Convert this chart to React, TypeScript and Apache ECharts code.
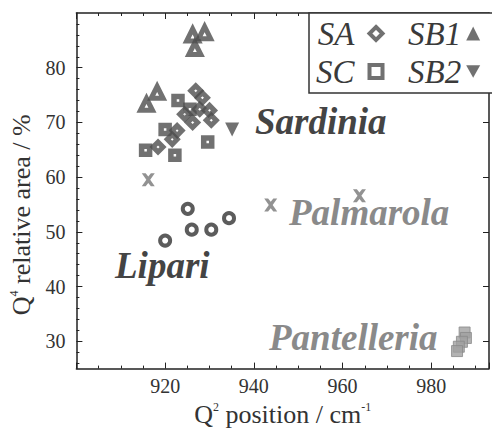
import React, { useEffect, useRef } from "react";
import * as echarts from "echarts";

// ---- data (x = Q2 position / cm-1, y = Q4 relative area / %) ----
const saPoints: number[][] = [
  [926.9, 75.8], [928.4, 74.5], [927.8, 72.4], [930.0, 72.2], [924.4, 71.5],
  [926.2, 70.0], [930.4, 70.4], [922.7, 68.5], [921.6, 66.9], [918.4, 65.5],
];
const scPoints: number[][] = [
  [915.6, 64.9], [920.0, 68.7], [922.2, 64.0], [922.9, 74.0], [925.6, 72.4], [929.6, 66.4],
];
const sb1Points: number[][] = [
  [915.8, 73.3], [918.2, 75.5], [926.2, 86.0], [928.9, 86.4], [926.7, 83.5],
];
const sb2Points: number[][] = [[935.1, 68.7]];
const palmarolaPoints: number[][] = [[916.2, 59.5], [943.8, 54.9], [963.8, 56.6]];
const lipariPoints: number[][] = [
  [925.1, 54.2], [926.0, 50.4], [930.4, 50.4], [934.4, 52.5], [920.0, 48.4],
];
const pantelleriaPoints: number[][] = [
  [987.5, 31.6], [987.8, 30.6], [986.9, 29.9], [986.2, 29.0], [985.8, 28.2],
];

const xTickMajor = [900, 920, 940, 960, 980];
const yTickMajor = [30, 40, 50, 60, 70, 80];
const yTickMinor = [26, 28, 32, 34, 36, 38, 42, 44, 46, 48, 52, 54, 56, 58, 62, 64, 66, 68, 72, 74, 76, 78, 82, 84, 86, 88];

const FONT = "Liberation Serif";
const DOWN_TRIANGLE = "path://M0,0 L10,0 L5,9 Z";
const CROSS = "path://M0,0 L3,0 L5,2.5 L7,0 L10,0 L6.5,5 L10,10 L7,10 L5,7.5 L3,10 L0,10 L3.5,5 Z";

export default function App() {
  const ref = useRef<HTMLDivElement>(null);
  useEffect(() => {
    if (!ref.current) return;
    const chart = echarts.init(ref.current, null, { renderer: "svg" });
    const grid = { left: 75, top: 13, width: 416, height: 362 };
    const lineColor = "#222";
    const markColor = "#4d4d4d";
    const tickLabel = { fontFamily: FONT, fontSize: 20, color: "#333" };
    const nameRich = {
      b: { fontFamily: FONT, fontSize: 26, color: "#333", lineHeight: 27 },
      s: { fontFamily: FONT, fontSize: 12, color: "#333", verticalAlign: "top" as const },
    };
    const xCommon = {
      type: "value" as const,
      min: 900,
      max: 993,
      interval: 20,
      splitLine: { show: false },
      axisLine: { lineStyle: { color: lineColor, width: 1.5 } },
      axisTick: { inside: true, length: 6, lineStyle: { color: lineColor } },
      minorTick: { show: true, splitNumber: 4, length: 3, lineStyle: { color: lineColor } },
    };
    const annot = (text: string, x: number, y: number, fill: string) => ({
      type: "text", x, y, z: 5,
      style: {
        text, fill, verticalAlign: "middle",
        fontFamily: FONT, fontSize: 37, fontStyle: "italic", fontWeight: "bold",
      },
    });
    const legendText = { fontFamily: FONT, fontStyle: "italic", fontSize: 33, color: "#3a3a3a" };
    const hollow = { color: "#fff", borderColor: markColor, borderWidth: 4 };
    const option: any = {
      animation: false,
      backgroundColor: "#fff",
      grid,
      xAxis: [
        {
          ...xCommon,
          position: "bottom",
          axisLabel: {
            ...tickLabel,
            margin: 7,
            formatter: (v: number) => (xTickMajor.includes(v) && v > 900 ? String(v) : ""),
          },
          name: "{b|Q}{s|2}{b| position / cm}{s|-1}",
          nameLocation: "middle",
          nameGap: 31,
          nameTextStyle: { rich: nameRich },
        },
        { ...xCommon, position: "top", axisLabel: { show: false } },
      ],
      yAxis: [
        {
          type: "value",
          min: 25,
          max: 90,
          position: "left",
          splitLine: { show: false },
          axisLine: { lineStyle: { color: lineColor, width: 1.5 } },
          axisTick: { inside: true, length: 6, customValues: yTickMajor, lineStyle: { color: lineColor } },
          axisLabel: { ...tickLabel, margin: 11, customValues: yTickMajor },
          name: "{b|Q}{s|4}{b| relative area / %}",
          nameLocation: "middle",
          nameGap: 34,
          nameRotate: 90,
          nameTextStyle: { rich: nameRich, padding: [0, 48, 0, 0] },
        },
        {
          type: "value",
          min: 25,
          max: 90,
          position: "left",
          splitLine: { show: false },
          axisLine: { show: false },
          axisTick: { inside: true, length: 3, customValues: yTickMinor, lineStyle: { color: lineColor } },
          axisLabel: { show: false },
        },
        {
          type: "value",
          min: 25,
          max: 90,
          position: "right",
          splitLine: { show: false },
          axisLine: { lineStyle: { color: lineColor, width: 1.5 } },
          axisTick: { inside: true, length: 6, customValues: yTickMajor, lineStyle: { color: lineColor } },
          axisLabel: { show: false },
        },
      ],
      legend: [
        {
          data: [
            { name: "SA", itemStyle: { ...hollow } },
            { name: "SC", itemStyle: { ...hollow } },
          ],
          orient: "vertical",
          left: 316,
          top: 17,
          padding: 0,
          itemGap: 5,
          align: "right",
          itemWidth: 13,
          itemHeight: 13,
          selectedMode: false,
          textStyle: { ...legendText, padding: [0, 10, 0, 0] },
        },
        {
          data: [
            { name: "SB1", itemStyle: { color: markColor, borderWidth: 0 } },
            { name: "SB2", itemStyle: { color: markColor, borderWidth: 0 } },
          ],
          orient: "vertical",
          left: 408,
          top: 17,
          padding: 0,
          itemGap: 5,
          align: "right",
          itemWidth: 14,
          itemHeight: 14,
          selectedMode: false,
          textStyle: { ...legendText, padding: [0, 0, 0, 0] },
        },
      ],
      graphic: [
        {
          type: "rect",
          z: 3,
          shape: { x: 309, y: 13, width: 195, height: 80 },
          style: { fill: "#fff", stroke: "#333", lineWidth: 1.5 },
        },
        annot("Sardinia", 255, 121, "#444"),
        annot("Palmarola", 289, 212, "#8a8a8a"),
        annot("Lipari", 115, 265, "#444"),
        annot("Pantelleria", 269, 337, "#8a8a8a"),
      ],
      series: [
        {
          name: "SC", type: "scatter", data: scPoints, symbol: "rect", symbolSize: 8,
          itemStyle: { color: "#fff", borderColor: markColor, borderWidth: 5.5 },
        },
        {
          name: "SA", type: "scatter", data: saPoints, symbol: "diamond", symbolSize: 10,
          itemStyle: { color: "#fff", borderColor: markColor, borderWidth: 5 },
        },
        {
          name: "SB1", type: "scatter", data: sb1Points, symbol: "triangle", symbolSize: 12,
          itemStyle: { color: "#fff", borderColor: markColor, borderWidth: 5 },
        },
        {
          name: "SB2", type: "scatter", data: sb2Points, symbol: DOWN_TRIANGLE, symbolSize: 14,
          itemStyle: { color: markColor },
        },
        {
          name: "Palmarola", type: "scatter", data: palmarolaPoints,
          symbol: CROSS, symbolSize: 13, itemStyle: { color: "#777" },
        },
        {
          name: "Lipari", type: "scatter", data: lipariPoints, symbol: "circle", symbolSize: 10,
          itemStyle: { color: "#fff", borderColor: "#333", borderWidth: 4 },
        },
        {
          name: "Pantelleria", type: "scatter", data: pantelleriaPoints, symbol: "rect", symbolSize: 11,
          itemStyle: { color: "#a0a0a0", borderColor: "#8a8a8a", borderWidth: 1 },
        },
      ],
    };
    chart.setOption(option);
    return () => chart.dispose();
  }, []);
  return (
    <div
      ref={ref}
      style={{ position: "fixed", left: 0, top: 0, width: 492, height: 432, background: "#fff" }}
    />
  );
}
